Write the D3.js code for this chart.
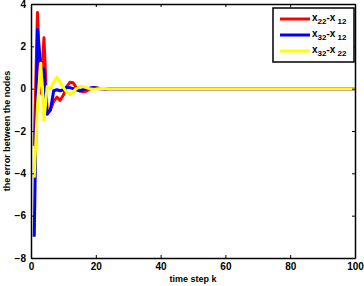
<html>
  <head>
    <meta charset="utf-8" />
    <script src="https://d3js.org/d3.v7.min.js"></script>
    <style>
      body { margin: 0; background: #fff; }
      text { font-family: "Liberation Sans", Arial, sans-serif; font-weight: bold; }
    </style>
  </head>
  <body>
    <svg id="chart" width="364" height="286"></svg>
    <script>
      // time steps (after k=30 every error is at 0 until k=100)
      var steps = [1, 2, 3, 4, 5, 6, 7, 8, 9, 10, 11, 12, 13, 14, 15, 16, 17, 18, 19, 20,
                   21, 22, 23, 24, 25, 26, 27, 28, 29, 30, 100];
      var e2212 = [-2.7, 3.6, -0.2, 2.4, -1.2, -1.0, -0.6, -0.4, -0.55, -0.3, 0.1, 0.3, 0.28, 0.05, -0.1,
                   -0.15, -0.12, -0.03, 0.05, 0.05, 0.02, 0, -0.02, -0.01, 0, 0, 0, 0, 0, 0, 0];
      var e3212 = [-7.0, 2.8, 1.0, 0.9, -1.2, -1.0, -0.1, -0.05, -0.1, -0.05, 0.05, 0.05, 0, -0.05, -0.1,
                   -0.05, 0, 0.02, 0.05, 0.03, 0, 0, 0, 0, 0, 0, 0, 0, 0, 0, 0];
      var e3222 = [-4.2, -0.8, 1.2, -1.5, 0.1, 0, 0.3, 0.55, 0.3, 0.05, -0.15, -0.28, -0.15, 0, 0.1,
                   0.1, 0.05, 0, -0.03, -0.02, 0, 0.02, 0.01, 0, 0, 0, 0, 0, 0, 0, 0];
      var xTicks = [0, 20, 40, 60, 80, 100];
      var yTicks = [-8, -6, -4, -2, 0, 2, 4];

      var series = [
        { name: ["x", "22", "-x", "12"], values: e2212, color: "#ff0000" },
        { name: ["x", "32", "-x", "12"], values: e3212, color: "#0000ff" },
        { name: ["x", "32", "-x", "22"], values: e3222, color: "#ffff00" }
      ];

      var svg = d3.select("#chart"),
        margin = { top: 4, right: 9, bottom: 28, left: 31 },
        width = +svg.attr("width"),
        height = +svg.attr("height");

      var x = d3.scaleLinear().domain([0, 100]).range([margin.left, width - margin.right]);
      var y = d3.scaleLinear().domain([-8, 4]).range([height - margin.bottom, margin.top]);

      var line = d3.line()
        .x((d) => x(d[0]))
        .y((d) => y(d[1]));

      // data lines
      series.forEach(function (s) {
        svg.append("path")
          .datum(steps.map((k, i) => [k, s.values[i]]))
          .attr("fill", "none")
          .attr("stroke", s.color)
          .attr("stroke-width", 3)
          .attr("stroke-linejoin", "round")
          .attr("d", line);
      });

      // axes, ticks inward on all four sides
      var tick = 3;
      svg.append("g")
        .attr("transform", "translate(0," + y(-8) + ")")
        .call(d3.axisBottom(x).tickValues(xTicks).tickSize(-tick).tickPadding(5).tickSizeOuter(0));
      svg.append("g")
        .attr("transform", "translate(0," + y(4) + ")")
        .call(d3.axisTop(x).tickValues(xTicks).tickSize(-tick).tickFormat("").tickSizeOuter(0));
      svg.append("g")
        .attr("transform", "translate(" + x(0) + ",0)")
        .call(d3.axisLeft(y).tickValues(yTicks).tickSize(-tick).tickPadding(5).tickSizeOuter(0));
      svg.append("g")
        .attr("transform", "translate(" + x(100) + ",0)")
        .call(d3.axisRight(y).tickValues(yTicks).tickSize(-tick).tickFormat("").tickSizeOuter(0));

      svg.selectAll(".domain").attr("stroke", "#000").attr("stroke-width", 1.5);
      svg.selectAll(".tick line").attr("stroke", "#000");
      svg.selectAll(".tick text")
        .attr("fill", "#000")
        .style("font-size", "10px")
        .style("font-family", '"Liberation Sans", Arial, sans-serif')
        .style("font-weight", "bold");

      // axis labels
      svg.append("text")
        .attr("x", (x(0) + x(100)) / 2)
        .attr("y", 282)
        .attr("text-anchor", "middle")
        .style("font-size", "9px")
        .text("time step k");

      svg.append("text")
        .attr("transform", "translate(10," + y(-2) + ") rotate(-90)")
        .attr("text-anchor", "middle")
        .style("font-size", "9px")
        .text("the error between the nodes");

      // legend
      var legend = svg.append("g").attr("transform", "translate(273,8)");
      legend.append("rect")
        .attr("width", 81)
        .attr("height", 54)
        .attr("fill", "#fff")
        .attr("stroke", "#000")
        .attr("stroke-width", 1.5);

      series.forEach(function (s, i) {
        var ly = 11 + i * 16;
        legend.append("line")
          .attr("x1", 7).attr("x2", 37)
          .attr("y1", ly).attr("y2", ly)
          .attr("stroke", s.color)
          .attr("stroke-width", 3);
        var t = legend.append("text")
          .attr("x", 39)
          .attr("y", ly + 2)
          .style("font-size", "10px");
        t.append("tspan").text(s.name[0]);
        t.append("tspan").attr("dy", 3).style("font-size", "8px").text(s.name[1]);
        t.append("tspan").attr("dy", -3).text(s.name[2]);
        t.append("tspan").attr("dy", 3).style("font-size", "8px").text(" " + s.name[3]);
      });
    </script>
  </body>
</html>
